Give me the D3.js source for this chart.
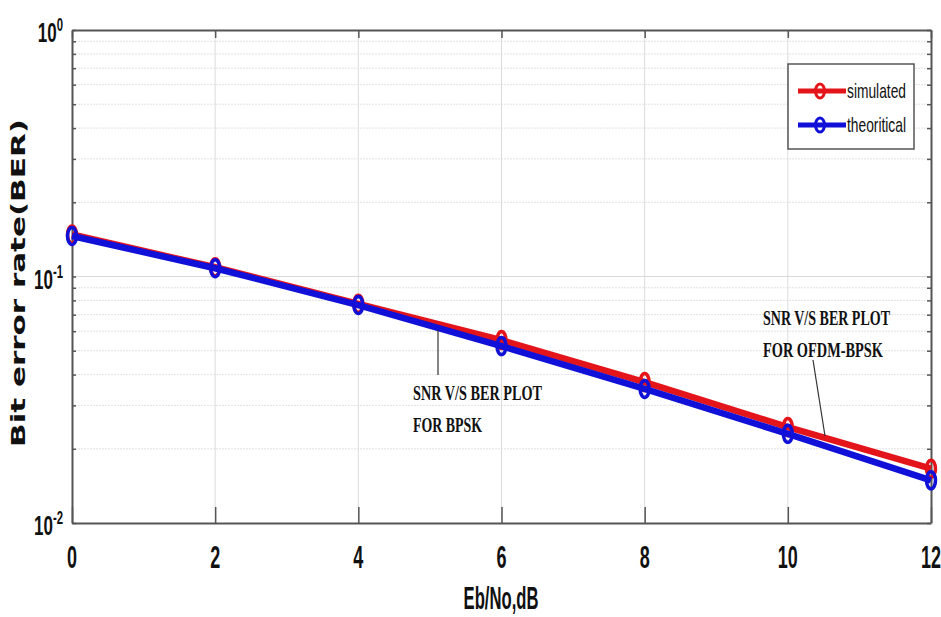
<!DOCTYPE html>
<html>
<head>
<meta charset="utf-8">
<title>SNR vs BER</title>
<script src="https://cdn.jsdelivr.net/npm/d3@7"></script>
<style>
  body { margin: 0; background: #fff; }
  .tick-lbl { font-family: "Liberation Sans", Arial, sans-serif; font-weight: bold; fill: #111; }
  .note { font-family: "Liberation Serif", "Times New Roman", serif; font-weight: bold; fill: #111; }
</style>
</head>
<body>
<svg id="chart" width="941" height="617"></svg>
<script>
  // values
  var snr = [0, 2, 4, 6, 8, 10, 12];
  var simulated = [0.148, 0.109, 0.0775, 0.0552, 0.0373, 0.0245, 0.0166];
  var theoretical = [0.146, 0.108, 0.0766, 0.0522, 0.0350, 0.0230, 0.0149];
  var xTicks = [0, 2, 4, 6, 8, 10, 12];
  var yDecades = [-2, -1, 0];

  var svg = d3.select("#chart");
  var pLeft = 72, pRight = 931, pTop = 30, pBottom = 523;

  var x = d3.scaleLinear().domain([0, 12]).range([pLeft, pRight]);
  var y = d3.scaleLog().domain([0.01, 1]).range([pBottom, pTop]);

  // squeeze a text horizontally to a given width
  function fitWidth(sel, px, py, w) {
    var nat = sel.node().getComputedTextLength();
    sel.attr("transform", "translate(" + px + "," + py + ") scale(" + (w / nat) + ",1)");
  }

  // minor log values
  var minors = [];
  [0.01, 0.1].forEach(function(d) {
    for (var k = 2; k <= 9; k++) minors.push(d * k);
  });

  var grid = svg.append("g");
  grid.selectAll("line.hm").data(minors).enter().append("line")
      .attr("x1", pLeft).attr("x2", pRight)
      .attr("y1", function(d) { return y(d); })
      .attr("y2", function(d) { return y(d); })
      .attr("stroke", "#e2e2e2").attr("stroke-width", 1)
      .attr("stroke-dasharray", "2,1");
  grid.selectAll("line.hM").data([0.1]).enter().append("line")
      .attr("x1", pLeft).attr("x2", pRight)
      .attr("y1", function(d) { return y(d); })
      .attr("y2", function(d) { return y(d); })
      .attr("stroke", "#d8d8d8").attr("stroke-width", 1);
  grid.selectAll("line.v").data(xTicks.slice(1, -1)).enter().append("line")
      .attr("x1", function(d) { return x(d); })
      .attr("x2", function(d) { return x(d); })
      .attr("y1", pTop).attr("y2", pBottom)
      .attr("stroke", "#dcdcdc").attr("stroke-width", 1);

  // axes with inward ticks
  var axB = svg.append("g").attr("transform", "translate(0," + pBottom + ")")
      .call(d3.axisBottom(x).tickValues(xTicks).tickSize(-16).tickSizeOuter(0).tickFormat(""));
  var axT = svg.append("g").attr("transform", "translate(0," + pTop + ")")
      .call(d3.axisTop(x).tickValues(xTicks).tickSize(-8).tickSizeOuter(0).tickFormat(""));
  var yTickVals = minors.concat([0.01, 0.1, 1]);
  var axL = svg.append("g").attr("transform", "translate(" + pLeft + ",0)")
      .call(d3.axisLeft(y).tickValues(yTickVals).tickSize(-4).tickSizeOuter(0).tickFormat(""));
  var axR = svg.append("g").attr("transform", "translate(" + pRight + ",0)")
      .call(d3.axisRight(y).tickValues(yTickVals).tickSize(-4).tickSizeOuter(0).tickFormat(""));
  [axB, axT, axL, axR].forEach(function(a) {
    a.selectAll("path").attr("stroke", "#555").attr("stroke-width", 2);
    a.selectAll("line").attr("stroke", "#555").attr("stroke-width", 1.5);
  });

  // x tick labels (tall, condensed)
  svg.append("g").selectAll("text").data(xTicks).enter().append("text")
      .attr("class", "tick-lbl")
      .attr("transform", function(d) { return "translate(" + x(d) + ",568) scale(0.58,1)"; })
      .attr("text-anchor", "middle")
      .attr("font-size", 31)
      .text(function(d) { return d; });

  // y tick labels 10^n
  var yl = svg.append("g").selectAll("text").data(yDecades).enter().append("text")
      .attr("class", "tick-lbl")
      .attr("transform", function(d) {
        return "translate(" + (pLeft - 9) + "," + (y(Math.pow(10, d)) + 12) + ") scale(0.63,1)";
      })
      .attr("text-anchor", "end")
      .attr("font-size", 27);
  yl.append("tspan").text("10");
  yl.append("tspan").attr("dy", -11).attr("font-size", 18)
      .text(function(d) { return d; });

  // axis titles
  svg.append("text")
      .attr("class", "tick-lbl")
      .attr("transform", "translate(501,609) scale(0.52,1)")
      .attr("text-anchor", "middle")
      .attr("font-size", 32)
      .text("Eb/No,dB");
  svg.append("text")
      .attr("transform", "translate(25,283) rotate(-90)")
      .attr("text-anchor", "middle")
      .attr("font-family", "'DejaVu Sans', sans-serif")
      .attr("font-weight", "bold")
      .attr("font-size", 20)
      .attr("textLength", 328)
      .attr("lengthAdjust", "spacingAndGlyphs")
      .attr("fill", "#111")
      .text("Bit error rate(BER)");

  // series
  var series = [
    {name: "simulated", values: simulated, color: "#e4141b"},
    {name: "theoritical", values: theoretical, color: "#1010d8"}
  ];
  var line = d3.line()
      .x(function(d, i) { return x(snr[i]); })
      .y(function(d) { return y(d); });

  series.forEach(function(s) {
    var g = svg.append("g");
    g.append("path").datum(s.values)
        .attr("d", line)
        .attr("fill", "none")
        .attr("stroke", s.color)
        .attr("stroke-width", 6.5);
    g.selectAll("ellipse").data(s.values).enter().append("ellipse")
        .attr("cx", function(d, i) { return x(snr[i]); })
        .attr("cy", function(d) { return y(d); })
        .attr("rx", 4.5).attr("ry", 8.5)
        .attr("fill", "none")
        .attr("stroke", s.color)
        .attr("stroke-width", 3.5);
  });

  // legend
  var lg = svg.append("g");
  lg.append("rect")
      .attr("x", 788).attr("y", 64).attr("width", 126).attr("height", 85)
      .attr("fill", "#fff").attr("stroke", "#555").attr("stroke-width", 1.5);
  series.forEach(function(s, i) {
    var cy = 91 + i * 34;
    lg.append("line").attr("x1", 798).attr("x2", 846)
        .attr("y1", cy).attr("y2", cy)
        .attr("stroke", s.color).attr("stroke-width", 5);
    lg.append("ellipse").attr("cx", 820).attr("cy", cy)
        .attr("rx", 4.5).attr("ry", 7)
        .attr("fill", "none").attr("stroke", s.color).attr("stroke-width", 3);
    var t = lg.append("text")
        .attr("font-family", "'Liberation Sans', sans-serif")
        .attr("font-size", 21)
        .attr("fill", "#111")
        .text(s.name);
    fitWidth(t, 847, cy + 7, 59);
  });

  // annotations: text lines with their widths, and leader lines
  var notes = [
    {lines: ["SNR V/S BER PLOT", "FOR BPSK"], widths: [129, 69], tx: 413, ty: 400, from: [438, 375], to: [438, 330]},
    {lines: ["SNR V/S BER PLOT", "FOR OFDM-BPSK"], widths: [127, 120], tx: 763, ty: 325, from: [813, 360], to: [825, 436]}
  ];
  notes.forEach(function(n) {
    svg.append("line")
        .attr("x1", n.from[0]).attr("y1", n.from[1])
        .attr("x2", n.to[0]).attr("y2", n.to[1])
        .attr("stroke", "#333").attr("stroke-width", 1.2);
    n.lines.forEach(function(s, i) {
      var t = svg.append("text")
          .attr("class", "note")
          .attr("font-size", 22)
          .text(s);
      fitWidth(t, n.tx, n.ty + i * 32, n.widths[i]);
    });
  });
</script>
</body>
</html>
